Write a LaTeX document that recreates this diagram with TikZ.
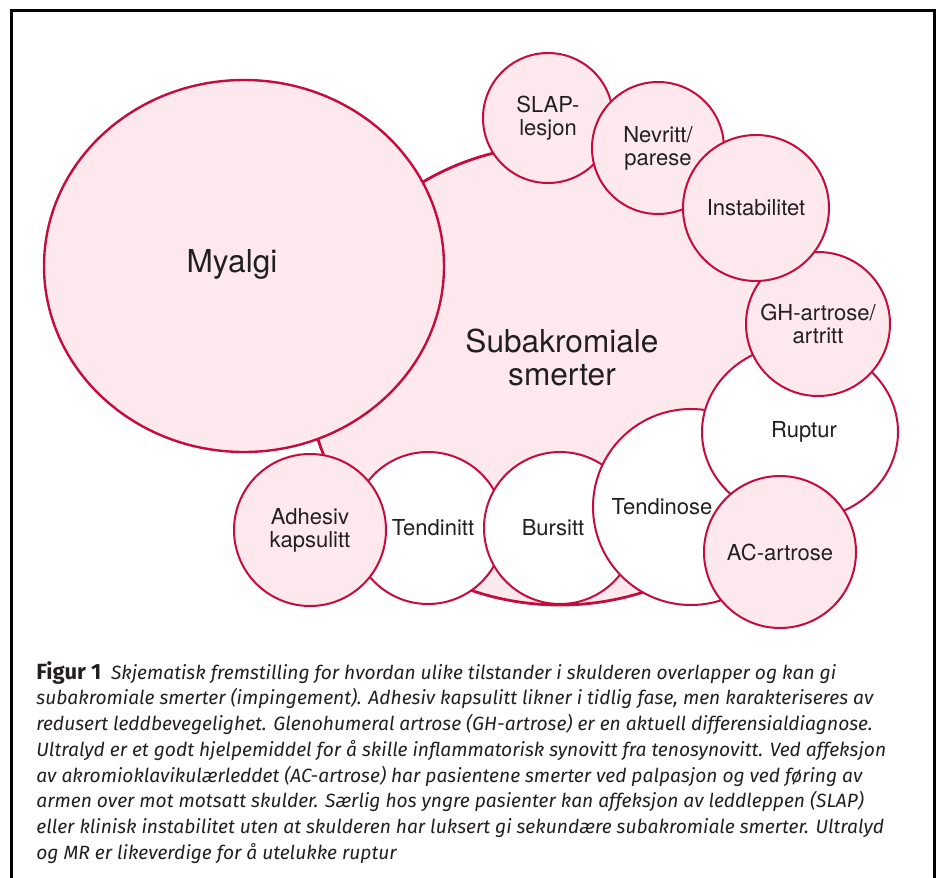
\documentclass[tikz,border=0pt]{standalone}
\usepackage{fontspec}
\setsansfont{TeX Gyre Heros}
\newfontfamily\capfont{Fira Sans}
\usetikzlibrary{shapes.geometric}
\definecolor{smerterod}{RGB}{196,12,62}
\definecolor{smerterosa}{RGB}{253,233,237}
\definecolor{skrift}{RGB}{35,31,32}

\begin{document}
\begin{tikzpicture}[x=0.5pt, y=-0.5pt,
    rosa/.style={circle, draw=smerterod, line width=1pt, fill=smerterosa, inner sep=0pt,
        align=center, text=skrift, font=\sffamily\fontsize{11}{11.5}\selectfont},
    hvit/.style={rosa, fill=white},
    stor/.style={ellipse, draw=smerterod, line width=1.4pt, fill=smerterosa, inner sep=0pt},
    etikett/.style={text=skrift, align=center, font=\sffamily\fontsize{11}{11.5}\selectfont},
    storetikett/.style={text=skrift, align=center, font=\sffamily\fontsize{15.8}{16.5}\selectfont}]
\useasboundingbox (0,0) rectangle (938,878);
\draw[line width=1.5pt] (11,878) |- (934,10) -- (934,878);

% store felter
\node[stor, minimum width=252pt, minimum height=230pt,
    label={[storetikett, xshift=1pt, yshift=9pt]center:Subakromiale\\smerter}] (subakromial) at (560,375) {};
\node[stor, line width=1.2pt, minimum width=200pt, minimum height=186pt,
    label={[storetikett, xshift=-6pt, yshift=1pt]center:Myalgi}] (myalgi) at (244,266) {};

% sirkler rundt
\node[rosa, minimum size=65pt] (slap) at (548,118) {SLAP-\\lesjon};
\node[rosa, minimum size=66pt] (nevritt) at (658,148) {Nevritt/\\parese};
\node[hvit, minimum size=76pt] (tendinitt) at (428,528) {\hspace*{5pt}Tendinitt};
\node[rosa, minimum size=76pt] (adhesiv) at (310,530) {Adhesiv\\kapsulitt};
\node[hvit, minimum size=76pt] (bursitt) at (560,528) {Bursitt\hspace*{7pt}};
\node[hvit, minimum size=98pt,
    label={[etikett, xshift=-14.5pt]center:Tendinose}] (tendinose) at (691,507) {};
\node[hvit, ellipse, minimum width=98pt, minimum height=88pt] (ruptur) at (800,432) {\hspace*{4pt}Ruptur};
\node[rosa, minimum size=72pt] (gh) at (818,324) {GH-artrose/\\artritt};
\node[rosa, minimum size=73pt] (instabilitet) at (756,208) {Instabilitet};
\node[rosa, minimum size=76pt] (ac) at (780,552) {AC-artrose};

% figurtekst
\node[anchor=north west, inner sep=0pt, align=left, text=skrift,
    font=\capfont\itshape\fontsize{9.6}{12.85}\selectfont] (figurtekst) at (36,661)
    {{\upshape\bfseries\fontsize{11}{12.85}\selectfont Figur 1}\enspace Skjematisk fremstilling for hvordan ulike tilstander i skulderen overlapper og kan gi\\
    subakromiale smerter (impingement). Adhesiv kapsulitt likner i tidlig fase, men karakteriseres av\\
    redusert leddbevegelighet. Glenohumeral artrose (GH-artrose) er en aktuell differensialdiagnose.\\
    Ultralyd er et godt hjelpemiddel for å skille inflammatorisk synovitt fra tenosynovitt. Ved affeksjon\\
    av akromioklavikulærleddet (AC-artrose) har pasientene smerter ved palpasjon og ved føring av\\
    armen over mot motsatt skulder. Særlig hos yngre pasienter kan affeksjon av leddleppen (SLAP)\\
    eller klinisk instabilitet uten at skulderen har luksert gi sekundære subakromiale smerter. Ultralyd\\
    og MR er likeverdige for å utelukke ruptur};
\end{tikzpicture}
\end{document}
